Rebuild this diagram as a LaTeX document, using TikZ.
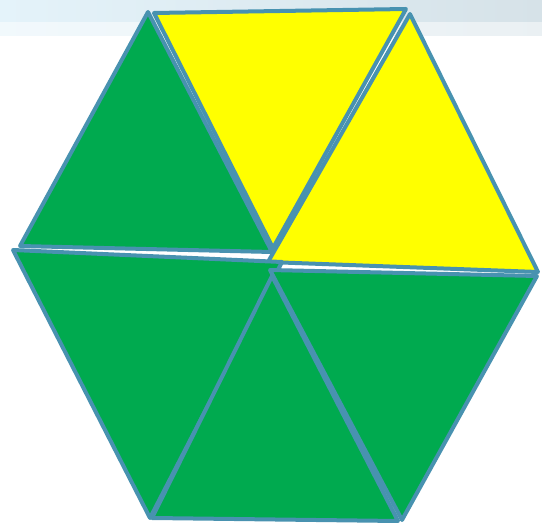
\documentclass[tikz,border=0pt]{standalone}
\begin{document}
\begin{tikzpicture}[x=1pt,y=-1pt,
  tri/.style={draw=edgeblue,line width=4pt,line join=round},
  grn/.style={tri,fill=hexgreen},
  ylw/.style={tri,fill=hexyellow}]
\definecolor{edgeblue}{RGB}{72,146,176}
\definecolor{hexgreen}{RGB}{0,170,79}
\definecolor{hexyellow}{RGB}{255,255,0}
\definecolor{bandl}{RGB}{228,243,250}
\definecolor{bandr}{RGB}{214,226,232}
\useasboundingbox (0,0) rectangle (542,529);
\fill[white] (0,0) rectangle (542,529);
\shade[left color=bandl,right color=bandr] (0,0) rectangle (542,36);
\fill[white,opacity=0.5] (0,22) rectangle (542,36);
% triangles
\draw[ylw] (410,14) -- (538,272) -- (268,262) -- cycle;
\draw[ylw] (154,13) -- (406,9) -- (273,248) -- cycle;
\draw[grn] (148,12) -- (20,246) -- (272,252) -- cycle;
\draw[grn] (13,250) -- (282,262) -- (150,518) -- cycle;
\draw[grn] (270,270) -- (537,276) -- (402,520) -- cycle;
\draw[grn] (272,276) -- (152,518) -- (398,521) -- cycle;
\end{tikzpicture}
\end{document}
